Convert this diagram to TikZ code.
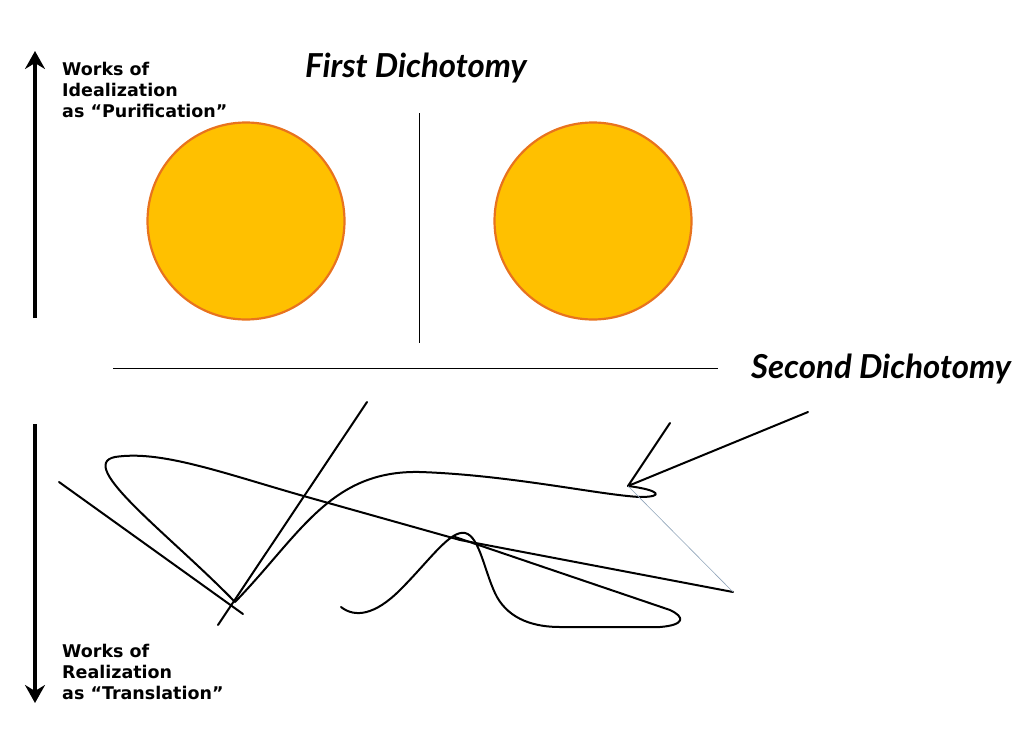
\documentclass[tikz,border=0pt]{standalone}
\usepackage{fontspec}
\setmainfont{DejaVu Sans}
\newfontfamily\titlefont{Lato}
\usetikzlibrary{arrows.meta}
\definecolor{discfill}{HTML}{FFC000}
\definecolor{discline}{HTML}{E8731E}
\definecolor{faint}{HTML}{8FA3B8}

\begin{document}
\begin{tikzpicture}[x=1pt, y=-1pt,
    disc/.style={
      circle, draw=discline, fill=discfill, line width=2.2pt,
      minimum size=197pt, inner sep=0pt
    },
    axis/.style={
      line width=3.8pt, -{Stealth[length=18pt, width=20pt, inset=6pt]}
    },
    divider/.style={line width=0.8pt},
    scrawl/.style={line width=2pt, line cap=round, line join=round},
    tag/.style={
      font=\bfseries\fontsize{17.5}{21}\selectfont,
      align=left, anchor=base west, inner sep=0pt
    },
    heading/.style={
      font=\titlefont\bfseries\itshape\fontsize{33}{38}\selectfont,
      anchor=base west, inner sep=0pt
    }
    ]
  \useasboundingbox (0,0) rectangle (1032,728);

  % titles and side labels
  \node[heading] (first) at (305,77) {First Dichotomy};
  \node[heading] (second) at (751,378) {Second Dichotomy};
  \node[tag] (ideal) at (62,117) {Works of\\Idealization\\as “Purification”};
  \node[tag] (real) at (62,699) {Works of\\Realization\\as “Translation”};

  % axes
  \coordinate (upfoot) at (35,318);
  \coordinate (uptip) at (35,51);
  \coordinate (downfoot) at (35,424);
  \coordinate (downtip) at (35,703);
  \draw[axis] (upfoot) -- (uptip);
  \draw[axis] (downfoot) -- (downtip);

  % the two pure forms
  \node[disc] (lefty) at (246,221) {};
  \node[disc] (righty) at (593,221) {};

  % dividers
  \coordinate (vtop) at (419,113);
  \coordinate (vbot) at (419,343);
  \coordinate (hleft) at (113,368);
  \coordinate (hright) at (718,368);
  \draw[divider] (vtop) -- (vbot);
  \draw[divider] (hleft) -- (hright);

  % the tangle
  \coordinate (knot) at (235,602);
  \coordinate (hook) at (628,486);
  \coordinate (far) at (733,592);
  \draw[scrawl] (59,482) -- (243,614);
  \draw[scrawl] (367,402) -- (218,625);
  \draw[scrawl] (knot) .. controls (170,535) and (75,465) .. (115,457)
    .. controls (160,450) and (220,472) .. (300,495)
    -- (460,540) -- (far);
  \draw[scrawl] (knot) .. controls (300,535) and (330,470) .. (420,472)
    .. controls (510,475) and (600,495) .. (640,497)
    .. controls (665,497) and (660,490) .. (hook);
  \draw[scrawl] (670,423) -- (hook) -- (808,412);
  \draw[faint, line width=0.6pt] (hook) -- (far);
  \draw[scrawl] (341,607) .. controls (355,618) and (375,615) .. (400,590)
    .. controls (430,560) and (450,530) .. (465,533)
    .. controls (480,536) and (485,575) .. (497,597)
    .. controls (510,620) and (535,627) .. (560,627)
    -- (660,627) .. controls (685,625) and (685,617) .. (670,610)
    -- (455,537);
\end{tikzpicture}
\end{document}
